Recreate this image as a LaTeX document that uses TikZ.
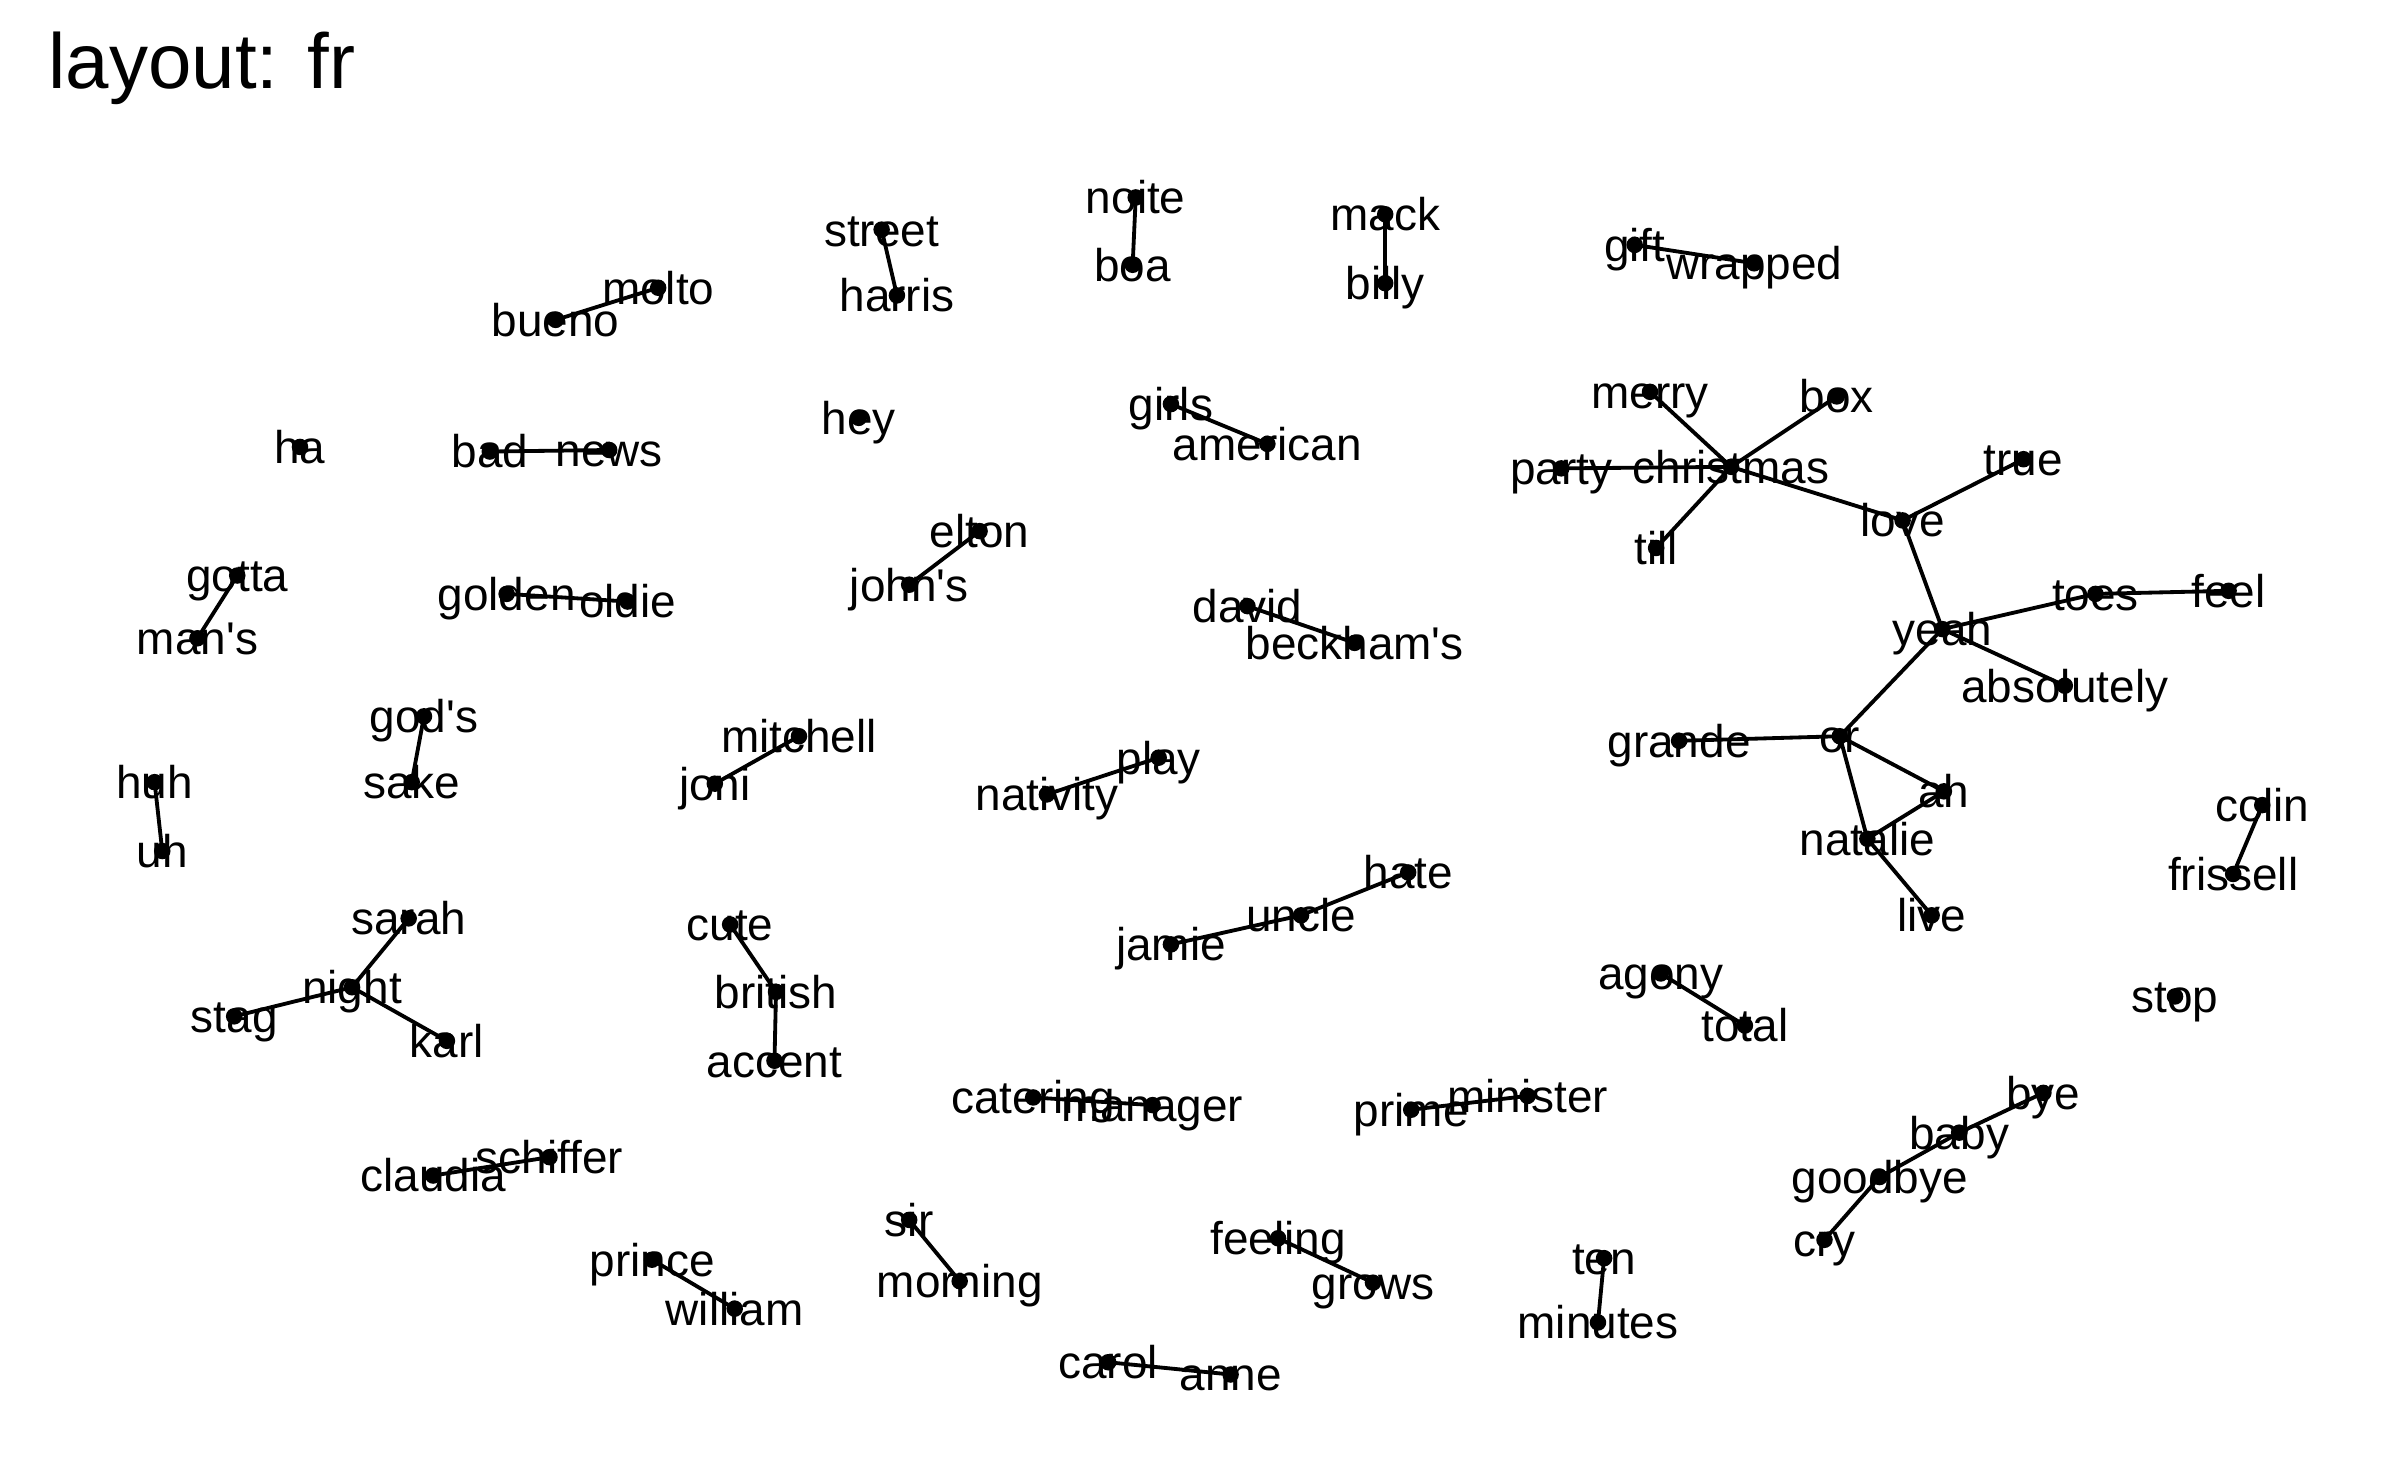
\documentclass[tikz,border=0pt]{standalone}
\usepackage{fontspec}
\setmainfont{Liberation Sans}
\newfontfamily\lblfont{Liberation Sans}
\begin{document}
\begin{tikzpicture}[x=1pt,y=-1pt,
  lbl/.style={inner sep=0pt,outer sep=0pt,text height=21.5pt,text depth=0pt,anchor=center,font=\lblfont\fontsize{30}{36}\selectfont},
  edge/.style={line width=2.5pt,black},
  dot/.style={fill=black}]
\useasboundingbox (0,0) rectangle (1568,969);
\fill[white] (0,0) rectangle (1568,969);
\node[anchor=base west,inner sep=0pt,font=\lblfont\fontsize{51}{60}\selectfont] (title) at (31.5,57.5) {layout: fr};
% coordinates
\foreach \n/\x/\y in {
 molto/430/188, bueno/363/209, street/576/150, harris/586/193, noite/742/129, boa/740/173,
 mack/905/140, billy/905/185, gift/1068/160, wrapped/1146/172, ha/196/292, bad/320/295,
 news/398/294, hey/561/273, girls/765/264, american/828/290, merry/1078/256, box/1200/259,
 party/1020/306, christmas/1131/305, till/1082/358, love/1243/340, true/1322/300,
 elton/640/347, johns/594/382, gotta/155/376, mans/129/417, golden/331/388, oldie/410/393,
 david/815/396, beckhams/885/420, yeah/1269/411, toes/1369/388, feel/1456/386,
 absolutely/1349/448, gods/277/468, sake/269/511, mitchell/522/481, joni/467/512,
 play/757/495, nativity/684/519, grande/1097/484, or/1202/481, ah/1270/517,
 natalie/1220/548, live/1262/598, huh/101/511, uh/106/556, colin/1478/526,
 frissell/1459/571, hate/920/570, uncle/850/598, jamie/765/617, sarah/267/600,
 night/230/645, stag/153/664, karl/292/680, cute/477/604, british/507/648,
 accent/506/693, agony/1085/636, total/1140/670, stop/1421/651, catering/675/717,
 manager/753/722, prime/922/725, minister/998/716, bye/1335/714, baby/1280/740,
 goodbye/1228/769, cry/1192/810, schiffer/359/756, claudia/283/768, sir/594/797,
 morning/627/837, feeling/835/809, grows/897/838, ten/1048/822, minutes/1044/864,
 prince/426/823, william/480/855, carol/724/890, anne/804/898}
 {\coordinate (\n) at (\x,\y);}
% edges
\foreach \a/\b in {molto/bueno, street/harris, noite/boa, mack/billy, gift/wrapped, bad/news,
 girls/american, merry/christmas, box/christmas, party/christmas, till/christmas,
 christmas/love, love/true, love/yeah, yeah/toes, toes/feel, yeah/absolutely, yeah/or,
 or/grande, or/ah, or/natalie, natalie/ah, natalie/live, elton/johns, gotta/mans,
 golden/oldie, david/beckhams, gods/sake, mitchell/joni, play/nativity, huh/uh,
 colin/frissell, hate/uncle, uncle/jamie, sarah/night, night/stag, night/karl,
 cute/british, british/accent, agony/total, catering/manager, prime/minister, bye/baby,
 baby/goodbye, goodbye/cry, schiffer/claudia, sir/morning, feeling/grows, ten/minutes,
 prince/william, carol/anne}
 {\draw[edge] (\a) -- (\b);}
% dots
\foreach \n in {molto, bueno, street, harris, noite, boa, mack, billy, gift, wrapped, ha, bad,
 news, hey, girls, american, merry, box, party, christmas, till, love, true, elton, johns,
 gotta, mans, golden, oldie, david, beckhams, yeah, toes, feel, absolutely, gods, sake,
 mitchell, joni, play, nativity, grande, or, ah, natalie, live, huh, uh, colin, frissell,
 hate, uncle, jamie, sarah, night, stag, karl, cute, british, accent, agony, total, stop,
 catering, manager, prime, minister, bye, baby, goodbye, cry, schiffer, claudia, sir,
 morning, feeling, grows, ten, minutes, prince, william, carol, anne}
 {\fill[dot] (\n) circle (5.4);}
% labels
\foreach \n/\t in {molto/molto, bueno/bueno, street/street, harris/harris, noite/noite, boa/boa,
 mack/mack, billy/billy, gift/gift, wrapped/wrapped, ha/ha, bad/bad, news/news, hey/hey,
 girls/girls, american/american, merry/merry, box/box, party/party, christmas/christmas,
 till/till, love/love, true/true, elton/elton, johns/{john's}, gotta/gotta, mans/{man's},
 golden/golden, oldie/oldie, david/david, beckhams/{beckham's}, yeah/yeah, toes/toes,
 feel/feel, absolutely/absolutely, gods/{god's}, sake/sake, mitchell/mitchell, joni/joni,
 play/play, nativity/nativity, grande/grande, or/or, ah/ah, natalie/natalie, live/live,
 huh/huh, uh/uh, colin/colin, frissell/frissell, hate/hate, uncle/uncle, jamie/jamie,
 sarah/sarah, night/night, stag/stag, karl/karl, cute/cute, british/british,
 accent/accent, agony/agony, total/total, stop/stop, catering/catering, manager/manager,
 prime/prime, minister/minister, bye/bye, baby/baby, goodbye/goodbye, cry/cry,
 schiffer/schiffer, claudia/claudia, sir/sir, morning/morning, feeling/feeling,
 grows/grows, ten/ten, minutes/minutes, prince/prince, william/william, carol/carol,
 anne/anne}
 {\node[lbl] (l-\n) at (\n) {\t};}
\end{tikzpicture}
\end{document}
